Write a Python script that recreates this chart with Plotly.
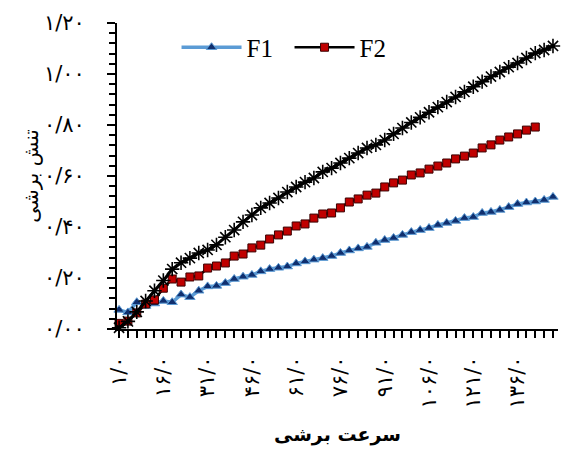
import plotly.graph_objects as go

# categories (shear rate)
speed = [1, 4, 7, 10, 13, 16, 19, 22, 25, 28, 31, 34, 37, 40, 43, 46, 49, 52, 55, 58,
         61, 64, 67, 70, 73, 76, 79, 82, 85, 88, 91, 94, 97, 100, 103, 106, 109, 112, 115, 118,
         121, 124, 127, 130, 133, 136, 139, 142, 145, 148]

F1 = [0.075, 0.065, 0.105, 0.09, 0.10, 0.11, 0.105, 0.135, 0.125, 0.15,
      0.167, 0.169, 0.18, 0.196, 0.205, 0.212, 0.226, 0.235, 0.24, 0.245,
      0.257, 0.265, 0.272, 0.278, 0.286, 0.298, 0.308, 0.316, 0.322, 0.338,
      0.349, 0.357, 0.369, 0.38, 0.388, 0.396, 0.408, 0.416, 0.424, 0.435,
      0.439, 0.455, 0.459, 0.467, 0.478, 0.49, 0.496, 0.5, 0.506, 0.518]

F2 = [0.022, 0.031, 0.063, 0.098, 0.114, 0.16, 0.196, 0.184, 0.204, 0.208,
      0.239, 0.247, 0.259, 0.286, 0.294, 0.318, 0.329, 0.353, 0.369, 0.384,
      0.404, 0.412, 0.435, 0.451, 0.455, 0.475, 0.498, 0.51, 0.525, 0.533,
      0.557, 0.573, 0.584, 0.604, 0.612, 0.627, 0.639, 0.651, 0.667, 0.678,
      0.69, 0.71, 0.722, 0.741, 0.753, 0.765, 0.78, 0.792]

F3 = [0.005, 0.03, 0.067, 0.11, 0.15, 0.19, 0.235, 0.26, 0.278, 0.298,
      0.31, 0.33, 0.36, 0.388, 0.42, 0.447, 0.475, 0.494, 0.514, 0.537,
      0.557, 0.576, 0.592, 0.616, 0.631, 0.651, 0.67, 0.69, 0.71, 0.722,
      0.741, 0.765, 0.788, 0.81, 0.83, 0.85, 0.87, 0.89, 0.91, 0.93,
      0.95, 0.97, 0.99, 1.008, 1.027, 1.043, 1.063, 1.082, 1.094, 1.11]

x_tickvals = [1, 16, 31, 46, 61, 76, 91, 106, 121, 136]
x_ticktext = ["۱/۰", "۱۶/۰", "۳۱/۰", "۴۶/۰", "۶۱/۰", "۷۶/۰", "۹۱/۰", "۱۰۶/۰", "۱۲۱/۰", "۱۳۶/۰"]
y_tickvals = [0, 0.2, 0.4, 0.6, 0.8, 1.0, 1.2]
y_ticktext = ["۰/۰۰", "۰/۲۰", "۰/۴۰", "۰/۶۰", "۰/۸۰", "۱/۰۰", "۱/۲۰"]

x_title = "سرعت برشی"
y_title = "تنش برشی"

fig = go.Figure()
fig.add_trace(go.Scatter(
    x=speed[:len(F1)], y=F1, name="F1", mode="lines+markers",
    line=dict(color="#5B9BD5", width=3.5),
    marker=dict(symbol="triangle-up", size=9, color="#102F6E",
                line=dict(color="#5B9BD5", width=1)),
    cliponaxis=False))
fig.add_trace(go.Scatter(
    x=speed[:len(F2)], y=F2, name="F2", mode="lines+markers",
    line=dict(color="black", width=2.5),
    marker=dict(symbol="square", size=8, color="#C00000",
                line=dict(color="#3a0000", width=1)),
    cliponaxis=False))
fig.add_trace(go.Scatter(
    x=speed[:len(F3)], y=F3, name="F3", mode="lines+markers", showlegend=False,
    line=dict(color="black", width=3),
    marker=dict(symbol="asterisk-open", size=12, color="black",
                line=dict(color="black", width=1.6)),
    cliponaxis=False))

tick_font = dict(family="DejaVu Sans", size=21, color="black")

fig.update_layout(
    width=562, height=450,
    margin=dict(l=117, r=4, t=23, b=121, autoexpand=False),
    paper_bgcolor="white", plot_bgcolor="white",
    showlegend=True,
    legend=dict(orientation="h", x=0.135, y=0.92, xanchor="left", yanchor="middle",
                font=dict(family="Liberation Serif", size=25, color="black"),
                bgcolor="rgba(0,0,0,0)", itemwidth=60, tracegroupgap=0,
                entrywidth=38, entrywidthmode="pixels"),
    xaxis=dict(
        range=[0.3, 149.7], showgrid=False, zeroline=False, automargin=False,
        showline=True, linecolor="black", linewidth=2,
        ticks="outside", ticklen=7, tickwidth=1.5, tickcolor="black",
        tickmode="array", tickvals=x_tickvals, ticktext=x_ticktext,
        tickangle=-90, tickfont=tick_font, ticklabelstandoff=10,
        minor=dict(ticks="outside", ticklen=7, tickwidth=1.5, tickcolor="black",
                   dtick=3, tick0=1, showgrid=False),
        title=dict(text=x_title, font=dict(family="DejaVu Sans", size=19, color="black",
                                           weight="bold"), standoff=20),
    ),
    yaxis=dict(
        range=[0, 1.2], showgrid=False, zeroline=False, automargin=False,
        showline=True, linecolor="black", linewidth=2,
        ticks="outside", ticklen=8, tickwidth=1.5, tickcolor="black",
        tickmode="array", tickvals=y_tickvals, ticktext=y_ticktext,
        tickfont=tick_font, ticklabelstandoff=18,
        minor=dict(ticks="outside", ticklen=6, tickwidth=1.5, tickcolor="black",
                   dtick=0.04, tick0=0, showgrid=False),
        title=dict(text=y_title, font=dict(family="DejaVu Sans", size=20, color="black"),
                   standoff=0),
    ),
)

fig.write_html("out.html", post_script="document.body.style.margin='0';",
               config={"displayModeBar": False})
